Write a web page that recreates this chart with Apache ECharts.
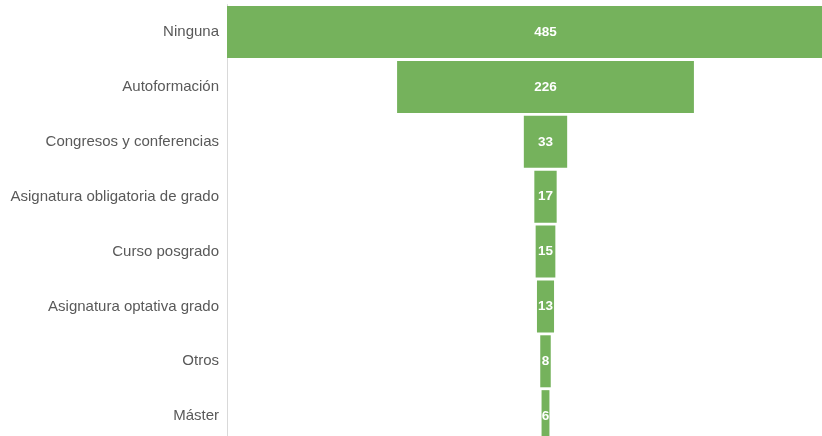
<!DOCTYPE html>
<html>
<head>
<meta charset="utf-8">
<script src="https://cdn.jsdelivr.net/npm/echarts@6/dist/echarts.min.js"></script>
<style>
  html, body { margin: 0; padding: 0; background: #fff; }
  #chart { width: 822px; height: 436px; }
</style>
</head>
<body>
<div id="chart"></div>
<script>
// Tipo de formación recibida
const categories = [
  'Ninguna',
  'Autoformación',
  'Congresos y conferencias',
  'Asignatura obligatoria de grado',
  'Curso posgrado',
  'Asignatura optativa grado',
  'Otros',
  'Máster'
];
const values = [485, 226, 33, 17, 15, 13, 8, 6];

// Centre each bar on the widest one with a transparent spacer
const maxValue = Math.max(...values);
const spacer = values.map(v => (maxValue - v) / 2);

const chart = echarts.init(document.getElementById('chart'), null, { renderer: 'canvas' });
chart.setOption({
  animation: false,
  // plot area runs past the right and bottom edges of the canvas
  grid: {
    left: 227, top: 4.6, width: 637, height: 439,
    containLabel: false,
    outerBoundsMode: 'none'
  },
  xAxis: {
    type: 'value',
    min: 0,
    max: maxValue,
    show: false
  },
  yAxis: {
    type: 'category',
    data: categories,
    inverse: true,
    axisLine: { show: true, lineStyle: { color: '#d9d9d9', width: 1 } },
    axisTick: { show: false },
    axisLabel: {
      color: '#595959',
      fontFamily: 'Liberation Sans, Arial, sans-serif',
      fontSize: 15,
      margin: 8
    }
  },
  series: [
    {
      type: 'bar',
      stack: 'f',
      data: spacer,
      itemStyle: { color: 'transparent' },
      barWidth: 52,
      silent: true
    },
    {
      type: 'bar',
      stack: 'f',
      data: values,
      barWidth: 52,
      itemStyle: { color: '#75b25c' },
      label: {
        show: true,
        position: 'inside',
        color: '#ffffff',
        fontFamily: '"Liberation Sans Narrow", "Liberation Sans", Arial, sans-serif',
        fontWeight: 'bold',
        fontSize: 13.5
      }
    }
  ]
});
</script>
</body>
</html>
